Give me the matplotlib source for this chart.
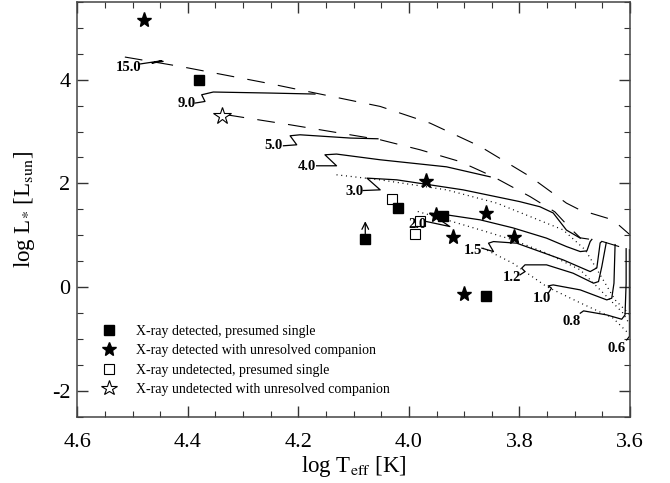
import matplotlib
matplotlib.use('Agg')
import matplotlib.pyplot as plt
from matplotlib.lines import Line2D
from matplotlib.ticker import MultipleLocator

plt.rcParams['font.family'] = ['Liberation Serif', 'DejaVu Serif']
plt.rcParams['mathtext.fontset'] = 'stix'

# ---------------- data ----------------
# observed stars (log Teff, log L)
det_single_T = [4.380, 4.020, 4.079, 3.939, 3.861]
det_single_L = [4.00, 1.52, 0.93, 1.37, -0.18]
det_comp_T = [4.480, 3.970, 3.951, 3.920, 3.861, 3.810, 3.900]
det_comp_L = [5.16, 2.04, 1.39, 0.97, 1.43, 0.96, -0.13]
undet_single_T = [4.030, 3.980, 3.989]
undet_single_L = [1.70, 1.28, 1.03]
undet_comp_T = [4.339]
undet_comp_L = [3.31]
arrow_T = 4.079
arrow_L = [1.03, 1.27]

# PMS evolutionary tracks (log Teff, log L)
track_15 = [(4.487, 4.303), (4.447, 4.367), (4.465, 4.322), (4.445, 4.353)]
track_9 = [(4.387, 3.550), (4.369, 3.581), (4.375, 3.710), (4.354, 3.763),
           (4.251, 3.743), (4.170, 3.724)]
track_5 = [(4.227, 2.726), (4.203, 2.745), (4.215, 2.919), (4.197, 2.938),
           (4.106, 2.875), (4.056, 2.861)]
track_4 = [(4.167, 2.340), (4.131, 2.340), (4.152, 2.552), (4.131, 2.566),
           (4.052, 2.456), (3.932, 2.320), (3.853, 2.127)]
track_3 = [(4.083, 1.863), (4.052, 1.876), (4.076, 2.102), (4.022, 2.069),
           (3.902, 1.876), (3.800, 1.650), (3.763, 1.550), (3.739, 1.430),
           (3.715, 1.100), (3.690, 0.944)]
track_2 = [(3.968, 1.264), (3.926, 1.168), (3.962, 1.427), (3.932, 1.394),
           (3.871, 1.297), (3.812, 1.143), (3.751, 0.944), (3.715, 0.782),
           (3.690, 0.685), (3.678, 0.699), (3.672, 0.880), (3.669, 0.920)]
track_1p5 = [(3.868, 0.751), (3.847, 0.685), (3.856, 0.847), (3.847, 0.878),
             (3.805, 0.847), (3.721, 0.525), (3.672, 0.299), (3.660, 0.371),
             (3.654, 0.853), (3.651, 0.880)]
track_1p2 = [(3.799, 0.236), (3.790, 0.299), (3.796, 0.365), (3.790, 0.429),
             (3.751, 0.429), (3.703, 0.268), (3.666, 0.075), (3.657, 0.106),
             (3.651, 0.396), (3.643, 0.857)]
track_1p0 = [(3.748, -0.118), (3.742, -0.021), (3.748, 0.023), (3.739, 0.042),
             (3.690, -0.054), (3.642, -0.247), (3.633, -0.214), (3.629, 0.075),
             (3.627, 0.820)]
track_0p8 = [(3.690, -0.504), (3.684, -0.459), (3.642, -0.537), (3.615, -0.620),
             (3.609, -0.537), (3.607, 0.075), (3.607, 0.740)]
track_0p6 = [(3.606, -1.020), (3.601, -0.950), (3.601, 0.720)]

tracks = [track_15, track_9, track_5, track_4, track_3, track_2,
          track_1p5, track_1p2, track_1p0, track_0p8, track_0p6]

mass_labels = ['15.0', '9.0', '5.0', '4.0', '3.0', '2.0', '1.5', '1.2', '1.0', '0.8', '0.6']
label_T = [4.508, 4.402, 4.245, 4.185, 4.098, 3.985, 3.884, 3.814, 3.760, 3.705, 3.624]
label_L = [4.237, 3.550, 2.726, 2.326, 1.844, 1.201, 0.699, 0.178, -0.214, -0.666, -1.180]

# birthlines (dashed)
birth_upper = [(4.514, 4.438), (4.414, 4.257), (4.257, 3.936), (4.052, 3.485),
               (3.962, 3.164), (3.871, 2.712), (3.781, 2.133), (3.715, 1.620),
               (3.691, 1.490), (3.631, 1.297), (3.600, 1.008)]
birth_lower = [(4.330, 3.324), (4.215, 3.131), (4.052, 2.842), (3.980, 2.649),
               (3.908, 2.423), (3.848, 2.133), (3.781, 1.747), (3.736, 1.452),
               (3.709, 1.143), (3.690, 0.950), (3.654, 0.892), (3.600, 0.718)]

# isochrones (dotted)
iso_1 = [(4.131, 2.166), (4.052, 2.069), (3.932, 1.876), (3.841, 1.620),
         (3.721, 1.104), (3.681, 0.718), (3.654, 0.236), (3.627, -0.247),
         (3.600, -0.537)]
iso_2 = [(3.984, 1.458), (3.932, 1.297), (3.871, 1.104), (3.812, 0.911),
         (3.751, 0.654), (3.690, 0.332), (3.642, -0.183), (3.613, -0.498),
         (3.600, -0.730)]
iso_3 = [(3.866, 0.751), (3.812, 0.461), (3.751, 0.010), (3.690, -0.305),
         (3.631, -0.595), (3.600, -0.923)]

legend_labels = ['X-ray detected, presumed single',
                 'X-ray detected with unresolved companion',
                 'X-ray undetected, presumed single',
                 'X-ray undetected with unresolved companion']

# ---------------- figure ----------------
fig = plt.figure(figsize=(6.7, 4.83), dpi=100)
ax = fig.add_axes([0.1154, 0.1373, 0.8249, 0.8586])

def xy(pts):
    return [p[0] for p in pts], [p[1] for p in pts]

for tr in tracks:
    t, l = xy(tr)
    ax.plot(t, l, color='black', lw=0.9, zorder=2)

for bl in (birth_upper, birth_lower):
    t, l = xy(bl)
    ax.plot(t, l, color='black', lw=0.8, linestyle=(0, (16, 12)), zorder=2)

for iso in (iso_1, iso_2, iso_3):
    t, l = xy(iso)
    ax.plot(t, l, color='black', lw=0.9, linestyle=(0, (0.8, 3.0)), zorder=2)

for lab, t, l in zip(mass_labels, label_T, label_L):
    ax.text(t, l, lab, fontsize=10.5, fontweight='bold', ha='center', va='center',
            zorder=4)

ms_sq = 7.5
ms_st = 11
ax.plot(det_comp_T, det_comp_L, linestyle='none', marker='*', ms=ms_st,
        color='black', zorder=5)
ax.plot(det_single_T, det_single_L, linestyle='none', marker='s', ms=ms_sq,
        color='black', zorder=6)
ax.plot(undet_single_T, undet_single_L, linestyle='none', marker='s', ms=ms_sq,
        mfc='none', mec='black', mew=0.8, zorder=3)
ax.plot(undet_comp_T, undet_comp_L, linestyle='none', marker='*', ms=ms_st + 2,
        mfc='white', mec='black', mew=0.8, zorder=5)

ax.annotate('', xy=(arrow_T, arrow_L[1]), xytext=(arrow_T, arrow_L[0]),
            arrowprops=dict(arrowstyle='->', lw=0.9, color='black',
                            mutation_scale=12, shrinkA=0, shrinkB=0))

handles = [
    Line2D([], [], linestyle='none', marker='s', ms=6.5, color='black'),
    Line2D([], [], linestyle='none', marker='*', ms=10, color='black'),
    Line2D([], [], linestyle='none', marker='s', ms=6.5, mfc='none', mec='black', mew=0.8),
    Line2D([], [], linestyle='none', marker='*', ms=11.5, mfc='white', mec='black', mew=0.8),
]
ax.legend(handles, legend_labels, loc='upper left', bbox_to_anchor=(0.045, 0.222),
          frameon=False, fontsize=10, handlelength=1.0, handletextpad=1.4,
          labelspacing=0.47, borderpad=0, borderaxespad=0)

ax.set_xlim(4.6, 3.6)
ax.set_ylim(-2.5, 5.5)
ax.xaxis.set_major_locator(MultipleLocator(0.2))
ax.xaxis.set_minor_locator(MultipleLocator(0.05))
ax.yaxis.set_major_locator(MultipleLocator(2))
ax.yaxis.set_minor_locator(MultipleLocator(0.5))
ax.xaxis.set_major_formatter(plt.FuncFormatter(lambda v, p: f'{v:.1f}'))
ax.yaxis.set_major_formatter(plt.FuncFormatter(lambda v, p: f'{v:.0f}'))
ax.tick_params(which='both', direction='in', top=True, right=True, color='#333333')
ax.tick_params(which='major', length=8, width=1.0, labelsize=16)
ax.tick_params(which='minor', length=4, width=0.8)
ax.tick_params(axis='x', which='major', pad=12)
ax.tick_params(axis='y', which='major', pad=5)
for s in ax.spines.values():
    s.set_color('#444444')
    s.set_linewidth(1.1)

ax.set_xlabel(r'log T$_{\mathrm{eff}}$ [K]', fontsize=16.5, labelpad=1)
ax.set_ylabel(r'log L$_{*}$ [L$_{\mathrm{sun}}$]', fontsize=16.5, labelpad=11)

fig.savefig('out.png', dpi=100)
